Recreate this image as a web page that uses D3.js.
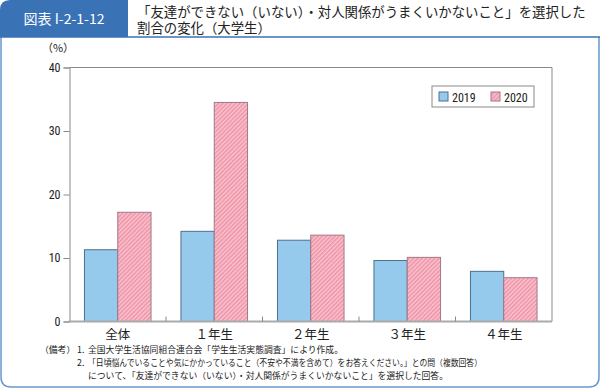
<!DOCTYPE html>
<html><head><meta charset="utf-8">
<script src="https://cdn.jsdelivr.net/npm/d3@7"></script>
<style>
body{margin:0;background:#fff;}
svg{display:block;font-family:"Noto Sans CJK JP","Noto Sans",sans-serif;}
</style></head>
<body>
<svg id="c" width="600" height="390"></svg>
<script>
const categories = ["全体", "１年生", "２年生", "３年生", "４年生"];
const seriesNames = ["2019", "2020"];
const values2019 = [11.3, 14.2, 12.8, 9.6, 7.9];
const values2020 = [17.2, 34.5, 13.6, 10.1, 6.9];
const yTicks = [0, 10, 20, 30, 40];
const figId = "図表 I-2-1-12";
const titleLines = ["「友達ができない（いない）・対人関係がうまくいかないこと」を選択した", "割合の変化（大学生）"];
const noteHead = "（備考）";
const noteNums = ["1.", "2.", ""];
const noteTexts = [
  "全国大学生活協同組合連合会「学生生活実態調査」により作成。",
  "「日頃悩んでいることや気にかかっていること（不安や不満を含めて）をお答えください。」との問（複数回答）",
  "について、「友達ができない（いない）・対人関係がうまくいかないこと」を選択した回答。"
];

(function(){
const svg = d3.select("#c");
const defs = svg.append("defs");
const pat = defs.append("pattern").attr("id","hatch").attr("patternUnits","userSpaceOnUse")
  .attr("width",3).attr("height",3).attr("patternTransform","rotate(45)");
pat.append("rect").attr("width",3).attr("height",3).attr("fill","#f9c3ce");
pat.append("rect").attr("width",1.4).attr("height",3).attr("fill","#ee90a5");

// frame
svg.append("path")
  .attr("d","M1,37 L1,377 Q1,387 11,387 L589,387 Q599,387 599,377 L599,37")
  .attr("fill","none").attr("stroke","#6a98cf").attr("stroke-width",1.5);
svg.append("line").attr("x1",0).attr("x2",600).attr("y1",37).attr("y2",37)
  .attr("stroke","#3a72b6").attr("stroke-width",1.5);
svg.append("path").attr("d","M0,37 L0,10 Q0,0 10,0 L128,0 L128,37 Z").attr("fill","#3a72b6");
svg.append("text").attr("x",64).attr("y",24).attr("text-anchor","middle")
  .attr("fill","#fff").attr("font-size",14).text(figId);
const tt = svg.append("text").attr("font-size",13.4).attr("fill","#222");
titleLines.forEach((t,i)=>{
  tt.append("tspan").attr("x",137).attr("y",16.5+i*16.5).text(t);
});

// chart
const pL = 69.5, pR = 552, pT = 67.5, pB = 321.5;
const x0 = d3.scaleBand().domain(categories).range([pL,pR]).paddingInner(0.31).paddingOuter(0.155);
const x1 = d3.scaleBand().domain(seriesNames).range([0,x0.bandwidth()]);
const y = d3.scaleLinear().domain([0,40]).range([pB,pT]);

const g = svg.append("g");
g.append("path").attr("d",`M${pL},${pT} L${pR},${pT} L${pR},${pB}`)
  .attr("fill","none").attr("stroke","#8a8a8a").attr("stroke-width",1);

const yAxis = d3.axisLeft(y).tickValues(yTicks).tickSize(6).tickPadding(3);
const ya = g.append("g").attr("transform",`translate(${pL},0)`).call(yAxis);
ya.select(".domain").attr("stroke","#8a8a8a");
ya.selectAll(".tick line").attr("stroke","#8a8a8a");
ya.selectAll("text").attr("font-size",12).attr("fill","#222")
  .attr("font-family","Roboto Condensed, Liberation Sans Narrow, Roboto, sans-serif");

svg.append("text").attr("x",58).attr("y",52).attr("text-anchor","middle").attr("font-size",11).attr("fill","#222").text("（%）");

// bars
const data = categories.map((c,i)=>({c, vals:[{s:"2019",v:values2019[i]},{s:"2020",v:values2020[i]}]}));
const grp = g.selectAll(".grp").data(data).join("g").attr("class","grp").attr("transform",d=>`translate(${x0(d.c)},0)`);
grp.selectAll("rect").data(d=>d.vals).join("rect")
  .attr("x",d=>x1(d.s)).attr("width",x1.bandwidth())
  .attr("y",d=>y(d.v)).attr("height",d=>pB-y(d.v))
  .attr("fill",d=>d.s==="2019"?"#96caec":"url(#hatch)")
  .attr("stroke",d=>d.s==="2019"?"#4d6f8c":"#a07a86").attr("stroke-width",1);

// x axis
const xa = g.append("g").attr("transform",`translate(0,${pB})`);
xa.append("line").attr("x1",pL-1).attr("x2",pR).attr("stroke","#aaaaaa").attr("stroke-width",2);
const step = x0.step();
categories.slice(1).forEach(c=>{
  const xx = x0(c) - x0.paddingInner()*step/2;
  xa.append("line").attr("x1",xx).attr("x2",xx).attr("y1",-5).attr("y2",0).attr("stroke","#8a8a8a");
});
categories.forEach(c=>{
  xa.append("text").attr("x",x0(c)+x0.bandwidth()/2).attr("y",17).attr("text-anchor","middle")
    .attr("font-size",12.5).attr("fill","#222").text(c);
});

// legend
const lg = svg.append("g").attr("transform","translate(432,86)");
lg.append("rect").attr("width",102).attr("height",21).attr("fill","#fff").attr("stroke","#8a8a8a");
seriesNames.forEach((s,i)=>{
  const gx = 7 + i*52;
  lg.append("rect").attr("x",gx).attr("y",6).attr("width",9).attr("height",9)
    .attr("fill",i===0?"#96caec":"url(#hatch)").attr("stroke",i===0?"#4d6f8c":"#a07a86");
  lg.append("text").attr("x",gx+13).attr("y",15.5).attr("font-size",12).attr("fill","#222")
    .attr("font-family","Roboto Condensed, Liberation Sans Narrow, Roboto, sans-serif").text(s);
});

// notes
svg.append("text").attr("x",40).attr("y",353).attr("font-size",8.8).attr("fill","#222").text(noteHead);
noteTexts.forEach((t,i)=>{
  const yy = 353 + i*13;
  if(noteNums[i]) svg.append("text").attr("x",77).attr("y",yy).attr("font-size",8.8).attr("fill","#222").text(noteNums[i]);
  svg.append("text").attr("x",88).attr("y",yy).attr("font-size",8.8).attr("fill","#222")
    .attr("textLength", i===1 ? 394 : null).attr("lengthAdjust","spacingAndGlyphs").text(t);
});
})();
</script>
</body></html>
